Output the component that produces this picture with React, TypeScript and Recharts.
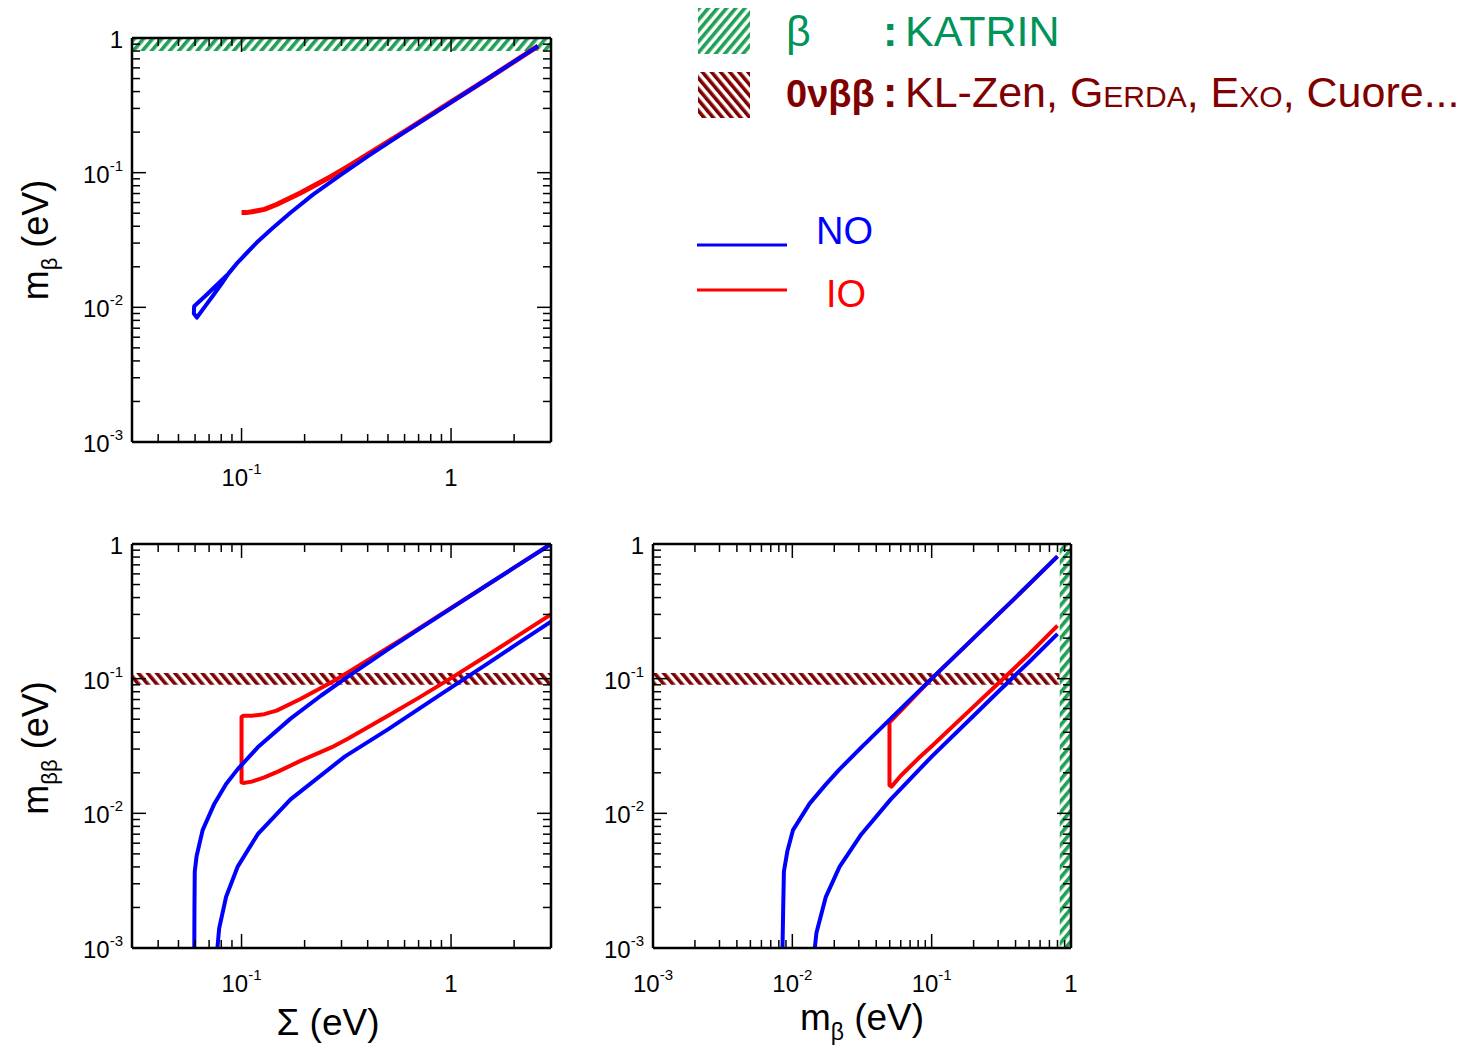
import React from "react";
import { LineChart, Line, XAxis, YAxis, ReferenceArea } from "recharts";

const FONT = "'Liberation Sans', Arial, Helvetica, sans-serif";
const BLUE = "#0000ff";
const RED = "#ff0000";
const GREEN = "#1fa055";
const GREEN_TEXT = "#00935a";
const BROWN = "#7f0000";

// axis ticks (log scales), majors get a label
const sumTicks = [0.03, 0.04, 0.05, 0.06, 0.07, 0.08, 0.09, 0.1, 0.2, 0.3, 0.4, 0.5, 0.6, 0.7, 0.8, 0.9, 1, 2, 3];
const massTicks = [
  0.001, 0.002, 0.003, 0.004, 0.005, 0.006, 0.007, 0.008, 0.009,
  0.01, 0.02, 0.03, 0.04, 0.05, 0.06, 0.07, 0.08, 0.09,
  0.1, 0.2, 0.3, 0.4, 0.5, 0.6, 0.7, 0.8, 0.9, 1,
];
const decadeLabels: Record<string, [string, string]> = {
  "0.001": ["10", "-3"],
  "0.01": ["10", "-2"],
  "0.1": ["10", "-1"],
  "1": ["1", ""],
};

// experimental bands
const katrinBand = [0.8, 1];
const katrinBandMb = [0.83, 1];
const onbbBand = [0.09, 0.11];

// m_beta vs Sigma
const topNO: [number, number][] = [
  [2.6, 0.87], [2.0, 0.667], [1.5, 0.5], [1.0, 0.333], [0.6, 0.2], [0.4, 0.132],
  [0.3, 0.097], [0.22, 0.069], [0.17, 0.05], [0.14, 0.0385], [0.12, 0.031],
  [0.105, 0.025], [0.095, 0.0212], [0.0866, 0.0178],
  [0.077, 0.0149], [0.0677, 0.0123], [0.0594, 0.0102], [0.0592, 0.009], [0.0612, 0.0084],
  [0.0671, 0.0102], [0.0733, 0.0123], [0.0801, 0.0149], [0.0866, 0.0178],
];
const topIO: [number, number][] = [
  [0.1, 0.0505], [0.105, 0.0505], [0.112, 0.0512], [0.1285, 0.0534], [0.147, 0.058],
  [0.191, 0.0707], [0.269, 0.0941], [0.323, 0.1115], [0.612, 0.206], [1.0, 0.335],
  [1.5, 0.5], [2.0, 0.667], [2.6, 0.87],
];

// m_bb vs Sigma
const sumNOupper: [number, number][] = [
  [0.0595, 0.001], [0.0596, 0.002], [0.0598, 0.0037], [0.061, 0.0048], [0.0652, 0.0075],
  [0.0742, 0.0118], [0.0844, 0.0165], [0.0957, 0.0212], [0.1195, 0.0309], [0.1714, 0.0505],
  [0.24, 0.075], [0.312, 0.1], [0.5, 0.165], [0.7, 0.232], [1.0, 0.333], [1.5, 0.5],
  [2.0, 0.667], [3.0, 1.0],
];
const sumNOlower: [number, number][] = [
  [0.0767, 0.001], [0.0782, 0.0014], [0.0844, 0.0024], [0.0957, 0.004], [0.1195, 0.007],
  [0.1714, 0.0127], [0.312, 0.0265], [0.5, 0.042], [0.904, 0.0775], [1.5, 0.13],
  [2.0, 0.175], [3.0, 0.265],
];
const sumIO: [number, number][] = [
  [3.0, 1.0], [2.0, 0.667], [1.5, 0.5], [1.0, 0.335], [0.612, 0.206], [0.323, 0.1115],
  [0.269, 0.0941], [0.191, 0.0707], [0.147, 0.0579], [0.1285, 0.0545], [0.112, 0.053],
  [0.102, 0.053], [0.1, 0.052], [0.1, 0.017], [0.102, 0.0168], [0.112, 0.0172],
  [0.1285, 0.0185], [0.15, 0.0205], [0.191, 0.0245], [0.27, 0.031], [0.323, 0.036],
  [0.5, 0.053], [0.7, 0.072], [1.0, 0.101], [1.5, 0.15], [2.0, 0.2], [3.0, 0.3],
];

// m_bb vs m_beta
const mbNOupper: [number, number][] = [
  [0.0085, 0.001], [0.0086, 0.002], [0.0087, 0.0037], [0.0092, 0.0052], [0.0101, 0.0075],
  [0.0133, 0.0118], [0.0174, 0.0164], [0.0218, 0.0212], [0.0313, 0.0309], [0.0508, 0.0505],
  [0.1, 0.1], [0.2, 0.2], [0.4, 0.4], [0.8, 0.81],
];
const mbNOlower: [number, number][] = [
  [0.0145, 0.001], [0.0149, 0.0013], [0.0174, 0.0024], [0.0218, 0.004], [0.0313, 0.007],
  [0.0508, 0.0127], [0.1004, 0.0265], [0.2, 0.053], [0.3, 0.08], [0.5, 0.133], [0.8, 0.215],
];
const mbIO: [number, number][] = [
  [0.8, 0.81], [0.4, 0.4], [0.2, 0.2], [0.1, 0.1], [0.07, 0.068], [0.0505, 0.048],
  [0.0498, 0.047], [0.0498, 0.0162], [0.0515, 0.0158], [0.06, 0.019], [0.08, 0.0255],
  [0.1, 0.0315], [0.2, 0.062], [0.3, 0.092], [0.5, 0.152], [0.8, 0.248],
];

const pts = (arr: [number, number][]) => arr.map(([x, y]) => ({ x, y }));

type Side = "bottom" | "top" | "left" | "right";

function makeTick(side: Side, showLabels: boolean) {
  return (props: any) => {
    const { x, y, payload } = props;
    const lab = decadeLabels[String(payload.value)];
    const len = lab ? 14 : 8;
    let x2 = x;
    let y2 = y;
    if (side === "bottom") y2 = y - len;
    else if (side === "top") y2 = y + len;
    else if (side === "left") x2 = x + len;
    else x2 = x - len;

    let label = null;
    if (showLabels && lab) {
      const tx = side === "left" ? x - 9 : x;
      const ty = side === "left" ? y + 10 : y + 44;
      label = (
        <text
          x={tx}
          y={ty}
          textAnchor={side === "left" ? "end" : "middle"}
          fontFamily={FONT}
          fontSize={24}
          fill="#000"
        >
          <tspan>{lab[0]}</tspan>
          {lab[1] && (
            <tspan dy={-12} fontSize={15}>
              {lab[1]}
            </tspan>
          )}
        </text>
      );
    }
    return (
      <g>
        <line x1={x} y1={y} x2={x2} y2={y2} stroke="#000" strokeWidth={1.5} />
        {label}
      </g>
    );
  };
}

const axisLine = { stroke: "#000", strokeWidth: 2.5 };

type PanelProps = {
  width: number;
  height: number;
  margin: { top: number; right: number; bottom: number; left: number };
  xDomain: [number, number];
  xTicks: number[];
  children: React.ReactNode;
};

// axes are 1px thick so recharts still draws them; margins account for it
function Panel({ width, height, margin, xDomain, xTicks, children }: PanelProps) {
  const m = {
    top: margin.top - 1,
    bottom: margin.bottom - 1,
    left: margin.left - 1,
    right: margin.right - 1,
  };
  return (
    <LineChart width={width} height={height} margin={m}>
      <XAxis
        xAxisId="b"
        type="number"
        dataKey="x"
        scale="log"
        domain={xDomain}
        ticks={xTicks}
        interval={0}
        allowDataOverflow
        height={1}
        tickSize={0}
        tickMargin={0}
        tickLine={false}
        axisLine={axisLine}
        tick={makeTick("bottom", true)}
      />
      <XAxis
        xAxisId="t"
        orientation="top"
        type="number"
        dataKey="x"
        scale="log"
        domain={xDomain}
        ticks={xTicks}
        interval={0}
        allowDataOverflow
        height={1}
        tickSize={0}
        tickMargin={0}
        tickLine={false}
        axisLine={axisLine}
        tick={makeTick("top", false)}
      />
      <YAxis
        yAxisId="l"
        type="number"
        dataKey="y"
        scale="log"
        domain={[0.001, 1]}
        ticks={massTicks}
        interval={0}
        allowDataOverflow
        width={1}
        tickSize={0}
        tickMargin={0}
        tickLine={false}
        axisLine={axisLine}
        tick={makeTick("left", true)}
      />
      <YAxis
        yAxisId="r"
        orientation="right"
        type="number"
        dataKey="y"
        scale="log"
        domain={[0.001, 1]}
        ticks={massTicks}
        interval={0}
        allowDataOverflow
        width={1}
        tickSize={0}
        tickMargin={0}
        tickLine={false}
        axisLine={axisLine}
        tick={makeTick("right", false)}
      />
      {children}
    </LineChart>
  );
}

function curve(data: [number, number][], color: string, key: string, w = 4) {
  return (
    <Line
      key={key}
      xAxisId="b"
      yAxisId="l"
      data={pts(data)}
      dataKey="y"
      type="linear"
      stroke={color}
      strokeWidth={w}
      strokeLinejoin="round"
      dot={false}
      activeDot={false}
      isAnimationActive={false}
    />
  );
}

export default function App() {
  return (
    <div
      style={{
        position: "absolute",
        left: 0,
        top: 0,
        width: 1481,
        height: 1048,
        background: "#fff",
        fontFamily: FONT,
        overflow: "hidden",
      }}
    >
      <svg width={0} height={0} style={{ position: "absolute" }}>
        <defs>
          <pattern id="hatchGreen" patternUnits="userSpaceOnUse" width={7} height={7} patternTransform="rotate(40)">
            <rect width={7} height={7} fill="#fff" />
            <rect width={3.6} height={7} fill={GREEN} />
          </pattern>
          <pattern id="hatchBrown" patternUnits="userSpaceOnUse" width={7} height={7} patternTransform="rotate(-40)">
            <rect width={7} height={7} fill="#fff" />
            <rect width={3.6} height={7} fill={BROWN} />
          </pattern>
        </defs>
      </svg>

      {/* m_beta vs Sigma */}
      <div style={{ position: "absolute", left: 0, top: 0 }}>
        <Panel
          width={600}
          height={500}
          margin={{ top: 38, left: 132, right: 49, bottom: 58 }}
          xDomain={[0.03, 3]}
          xTicks={sumTicks}
        >
          {curve(topIO, RED, "tio", 5)}
          {curve(topNO, BLUE, "tno", 4)}
          <ReferenceArea
            xAxisId="b"
            yAxisId="l"
            y1={katrinBand[0]}
            y2={katrinBand[1]}
            fill="url(#hatchGreen)"
            fillOpacity={1}
            stroke="none"
          />
        </Panel>
      </div>

      {/* m_bb vs Sigma */}
      <div style={{ position: "absolute", left: 0, top: 500 }}>
        <Panel
          width={600}
          height={548}
          margin={{ top: 44, left: 132, right: 49, bottom: 100 }}
          xDomain={[0.03, 3]}
          xTicks={sumTicks}
        >
          {curve(sumIO, RED, "sio")}
          {curve(sumNOupper, BLUE, "snu")}
          {curve(sumNOlower, BLUE, "snl")}
          <ReferenceArea
            xAxisId="b"
            yAxisId="l"
            y1={onbbBand[0]}
            y2={onbbBand[1]}
            fill="url(#hatchBrown)"
            fillOpacity={1}
            stroke="none"
          />
        </Panel>
      </div>

      {/* m_bb vs m_beta */}
      <div style={{ position: "absolute", left: 580, top: 500 }}>
        <Panel
          width={520}
          height={548}
          margin={{ top: 44, left: 73, right: 29, bottom: 100 }}
          xDomain={[0.001, 1]}
          xTicks={massTicks}
        >
          {curve(mbIO, RED, "mio")}
          {curve(mbNOupper, BLUE, "mnu")}
          {curve(mbNOlower, BLUE, "mnl")}
          <ReferenceArea
            xAxisId="b"
            yAxisId="l"
            y1={onbbBand[0]}
            y2={onbbBand[1]}
            x2={katrinBandMb[0]}
            fill="url(#hatchBrown)"
            fillOpacity={1}
            stroke="none"
          />
          <ReferenceArea
            xAxisId="b"
            yAxisId="l"
            x1={katrinBandMb[0]}
            x2={katrinBandMb[1]}
            fill="url(#hatchGreen)"
            fillOpacity={1}
            stroke="none"
          />
        </Panel>
      </div>

      {/* titles and legend */}
      <svg
        width={1481}
        height={1048}
        style={{ position: "absolute", left: 0, top: 0, pointerEvents: "none" }}
        fontFamily={FONT}
      >
        <text transform="translate(48,240) rotate(-90)" textAnchor="middle" fontSize={36}>
          m<tspan fontSize={22} dy={9}>β</tspan>
          <tspan dy={-9}> (eV)</tspan>
        </text>
        <text transform="translate(48,748) rotate(-90)" textAnchor="middle" fontSize={36}>
          m<tspan fontSize={22} dy={9}>ββ</tspan>
          <tspan dy={-9}> (eV)</tspan>
        </text>
        <text x={328} y={1035} textAnchor="middle" fontSize={37}>
          Σ (eV)
        </text>
        <text x={862} y={1030} textAnchor="middle" fontSize={37}>
          m<tspan fontSize={23} dy={10}>β</tspan>
          <tspan dy={-10}> (eV)</tspan>
        </text>

        <rect x={698} y={8} width={52} height={46} fill="url(#hatchGreen)" />
        <rect x={698} y={72} width={52} height={46} fill="url(#hatchBrown)" />
        <text x={786} y={46} fontSize={43} fill={GREEN_TEXT}>
          β
        </text>
        <text x={883} y={46} fontSize={43} fill={GREEN_TEXT} fontWeight="bold">
          :
        </text>
        <text x={905} y={46} fontSize={43} fill={GREEN_TEXT}>
          KATRIN
        </text>
        <text x={786} y={107} fontSize={38} fill={BROWN} fontWeight="bold">
          0νββ
        </text>
        <text x={883} y={107} fontSize={43} fill={BROWN} fontWeight="bold">
          :
        </text>
        <text x={905} y={107} fontSize={43} fill={BROWN}>
          KL-Zen, <tspan style={{ fontVariant: "small-caps" }}>Gerda</tspan>,{" "}
          <tspan style={{ fontVariant: "small-caps" }}>Exo</tspan>, Cuore...
        </text>

        <line x1={697} y1={245} x2={787} y2={245} stroke={BLUE} strokeWidth={3} />
        <text x={816} y={244} fontSize={38} fill={BLUE}>
          NO
        </text>
        <line x1={697} y1={290} x2={787} y2={290} stroke={RED} strokeWidth={3} />
        <text x={826} y={307} fontSize={38} fill={RED}>
          IO
        </text>
      </svg>
    </div>
  );
}
